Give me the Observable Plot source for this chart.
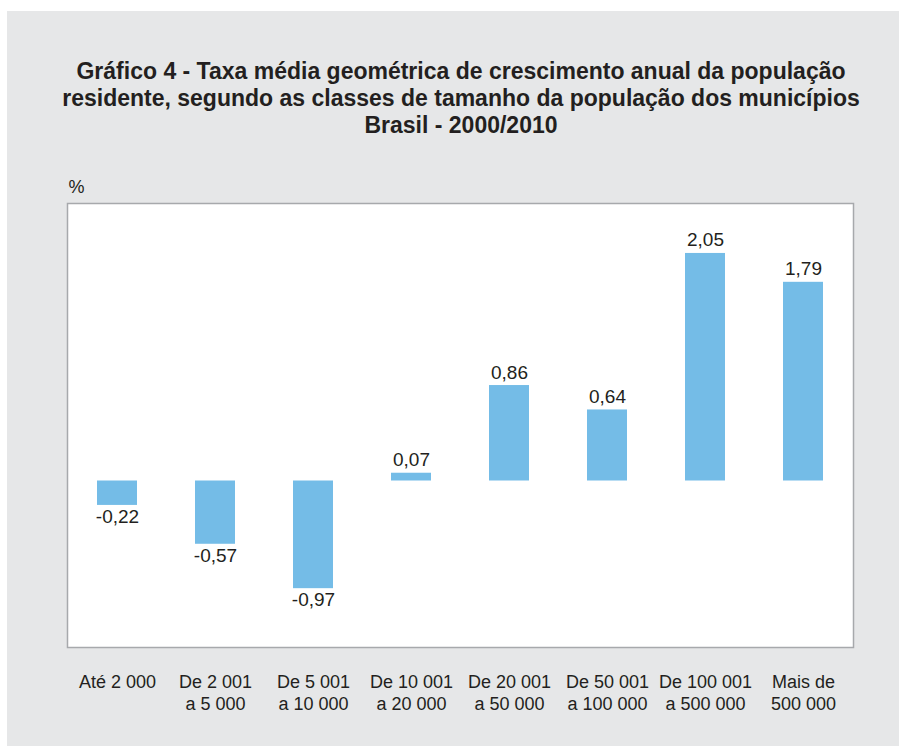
<!DOCTYPE html>
<html>
<head>
<meta charset="utf-8">
<script src="https://cdn.jsdelivr.net/npm/d3@7"></script>
<script src="https://cdn.jsdelivr.net/npm/@observablehq/plot@0.6"></script>
<style>
  html, body { margin: 0; padding: 0; background: #ffffff; width: 899px; height: 746px; overflow: hidden; }
  #panel { position: absolute; left: 7px; top: 11px; width: 892px; height: 735px; background: #e6e7e8; }
  #title { position: absolute; left: 11px; top: 58px; width: 900px; text-align: center;
    font-family: "Liberation Sans", Arial, sans-serif; font-weight: bold; font-size: 23px; line-height: 27px; color: #231f20; }
  #chart { position: absolute; left: 7px; top: 161px; }
</style>
</head>
<body>
<div id="panel"></div>
<div id="title">Gráfico 4 - Taxa média geométrica de crescimento anual da população<br>residente, segundo as classes de tamanho da população dos municípios<br>Brasil - 2000/2010</div>
<div id="chart"></div>
<script>
const categories = [
  "Até 2 000",
  "De 2 001\na 5 000",
  "De 5 001\na 10 000",
  "De 10 001\na 20 000",
  "De 20 001\na 50 000",
  "De 50 001\na 100 000",
  "De 100 001\na 500 000",
  "Mais de\n500 000"
];
const values = [-0.22, -0.57, -0.97, 0.07, 0.86, 0.64, 2.05, 1.79];
const unitLabel = "%";

const data = categories.map((c, i) => ({cat: c, value: values[i]}));
const fmt = v => v.toFixed(2).replace(".", ",");
const textColor = "#231f20";

const chart = Plot.plot({
  width: 892,
  height: 561,
  marginLeft: 60,
  marginRight: 46,
  marginTop: 42,
  marginBottom: 75,
  style: {background: "transparent", fontFamily: "'Liberation Sans', Arial, sans-serif", color: textColor},
  x: {domain: categories, paddingInner: 0.593, paddingOuter: 0.2965, label: null},
  y: {domain: [-1.5, 2.5], axis: null},
  marks: [
    Plot.frame({fill: "white", stroke: "#a7a9ac", strokeWidth: 1.5}),
    Plot.barY(data, {x: "cat", y: "value", fill: "#74bce7"}),
    Plot.text(data.filter(d => d.value >= 0), {x: "cat", y: "value", text: d => fmt(d.value), lineAnchor: "bottom", dy: -7, fontSize: 19, fill: textColor}),
    Plot.text(data.filter(d => d.value < 0), {x: "cat", y: "value", text: d => fmt(d.value), lineAnchor: "top", dy: 4, fontSize: 19, fill: textColor}),
    Plot.axisX({tickSize: 0, tickPadding: 26, lineHeight: 1.17, fontSize: 18, fill: textColor, label: null}),
    Plot.text([unitLabel], {frameAnchor: "top-left", textAnchor: "start", lineAnchor: "bottom", dx: 1, dy: -11, fontSize: 18, fill: textColor})
  ]
});
document.getElementById("chart").appendChild(chart);
</script>
</body>
</html>
